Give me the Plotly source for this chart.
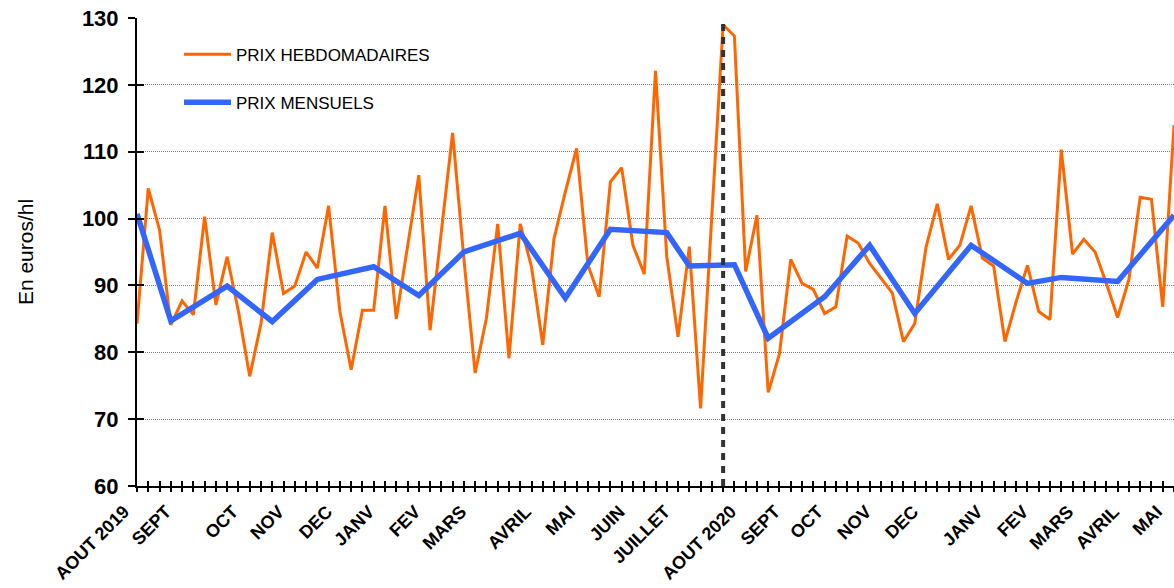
import plotly.graph_objects as go

# ---- data ----
weekly_prices = [
    84.3, 104.5, 98.3, 84.1, 87.7, 85.6, 100.3, 87.1, 94.3, 86.1,
    76.4, 84.3, 97.9, 88.8, 89.9, 95.0, 92.6, 101.9, 86.1, 77.4,
    86.3, 86.3, 101.9, 85.0, 95.8, 106.5, 83.3, 98.0, 112.8, 94.0,
    76.9, 85.1, 99.2, 79.1, 99.2, 92.8, 81.1, 97.0, 104.0, 110.5,
    93.1, 88.3, 105.5, 107.6, 96.0, 91.7, 122.1, 94.3, 82.3, 95.8,
    71.6, 100.5, 129.0, 127.3, 92.1, 100.5, 74.0, 79.8, 93.9, 90.3,
    89.4, 85.8, 86.8, 97.4, 96.3, 93.3, 91.1, 88.9, 81.6, 84.3,
    95.7, 102.2, 93.9, 96.0, 101.9, 94.1, 92.9, 81.6, 87.6, 93.0,
    86.1, 84.9, 110.3, 94.7, 96.9, 95.0, 90.3, 85.2, 90.9, 103.2,
    102.9, 86.8, 114.0,
]
weeks = list(range(len(weekly_prices)))

monthly_weeks = [0, 3, 8, 12, 16, 21, 25, 29, 34, 38, 42, 47, 49, 53, 56, 61, 65, 69, 74, 79, 82, 87, 92]
monthly_prices = [100.7, 84.7, 89.9, 84.6, 90.9, 92.8, 88.5, 95.0, 97.8, 88.1, 98.4, 97.9,
                  92.9, 93.1, 82.1, 88.3, 96.0, 85.8, 96.0, 90.3, 91.2, 90.6, 100.5]

month_labels = ["AOUT 2019", "SEPT", "OCT", "NOV", "DEC", "JANV", "FEV", "MARS", "AVRIL", "MAI",
                "JUIN", "JUILLET", "AOUT 2020", "SEPT", "OCT", "NOV", "DEC", "JANV", "FEV",
                "MARS", "AVRIL", "MAI"]
month_label_pos = [0, 3.73, 9.67, 13.75, 18.01, 21.74, 25.82, 29.90, 35.66, 39.57, 43.97, 48.0,
                   53.85, 57.75, 61.57, 65.83, 70.0, 75.72, 79.76, 83.75, 87.83, 91.64]
year_break_week = 52

y_ticks = [60, 70, 80, 90, 100, 110, 120, 130]

FONT = "Liberation Sans, Arial, sans-serif"
x_range = [weeks[0], weeks[-1]]
y_range = [y_ticks[0], y_ticks[-1]]

fig = go.Figure()
fig.add_trace(go.Scatter(
    x=weeks, y=weekly_prices, mode="lines", name="PRIX HEBDOMADAIRES",
    line=dict(color="#FF6600", width=3), legendgroup="a",
))
fig.add_trace(go.Scatter(
    x=monthly_weeks, y=monthly_prices, mode="lines", name="PRIX MENSUELS",
    line=dict(color="#3366FF", width=5.5), legendgroup="b",
))
# empty helper traces so overlay axes (tick marks crossing the axis lines) are drawn
for xa, ya in (("x2", "y"), ("x3", "y"), ("x", "y2")):
    fig.add_trace(go.Scatter(x=[None], y=[None], xaxis=xa, yaxis=ya,
                             showlegend=False, hoverinfo="skip"))

fig.add_vline(x=year_break_week, line=dict(color="#333333", width=4, dash="7px,6px"),
              layer="above")

# white legend background covering the gridline behind it
fig.add_shape(type="rect", xref="paper", yref="paper", x0=0, x1=0.331, y0=0.75, y1=0.975,
              fillcolor="white", line=dict(width=0), layer="between")

fig.update_layout(
    width=1174, height=588,
    margin=dict(l=137, r=0, t=18, b=102),
    paper_bgcolor="white", plot_bgcolor="white",
    font=dict(family=FONT, color="black"),
    showlegend=True,
    legend=dict(
        x=0.0405, y=0.96, xanchor="left", yanchor="top",
        bgcolor="rgba(0,0,0,0)", font=dict(size=17, family=FONT, color="black"),
        traceorder="grouped", tracegroupgap=23, itemwidth=47,
    ),
    xaxis=dict(
        range=x_range, tickmode="array", tickvals=month_label_pos, ticktext=month_labels,
        tickangle=-45, ticks="", showgrid=False, zeroline=False, automargin=False,
        showline=True, linecolor="black", linewidth=2,
        ticklabelshift=-13, ticklabelstandoff=6,
        tickfont=dict(size=18, family=FONT, color="black", weight="bold"),
    ),
    xaxis2=dict(
        overlaying="x", anchor="y", range=x_range, tickmode="linear", tick0=0, dtick=1,
        ticks="outside", ticklen=5, tickwidth=2, tickcolor="black", automargin=False,
        showticklabels=False, showgrid=False, zeroline=False, showline=False,
    ),
    xaxis3=dict(
        overlaying="x", anchor="y", range=x_range, tickmode="linear", tick0=0, dtick=1,
        ticks="inside", ticklen=5, tickwidth=2, tickcolor="black", automargin=False,
        showticklabels=False, showgrid=False, zeroline=False, showline=False,
    ),
    yaxis=dict(
        range=y_range, tickmode="array", tickvals=y_ticks, automargin=False,
        ticks="outside", ticklen=7, tickwidth=2, tickcolor="black",
        showline=True, linecolor="black", linewidth=2, zeroline=False,
        showgrid=True, gridcolor="#7a7a7a", gridwidth=1, griddash="1px,1px",
        tickfont=dict(size=22, family=FONT, color="black", weight="bold"),
        ticklabelstandoff=5,
        title=dict(text="En euros/hl", font=dict(size=21, family=FONT, color="black"),
                   standoff=43),
    ),
    yaxis2=dict(
        overlaying="y", anchor="x", side="left", range=y_range, tickmode="array",
        tickvals=y_ticks, ticks="inside", ticklen=7, tickwidth=2, tickcolor="black",
        automargin=False,
        showticklabels=False, showgrid=False, zeroline=False, showline=False,
    ),
)

# remove the default page margin so the 1174x588 figure fills the window exactly
fig.write_html(
    "out.html",
    config={"displayModeBar": False},
    post_script="document.body.style.margin='0px';document.body.style.overflow='hidden';",
)
